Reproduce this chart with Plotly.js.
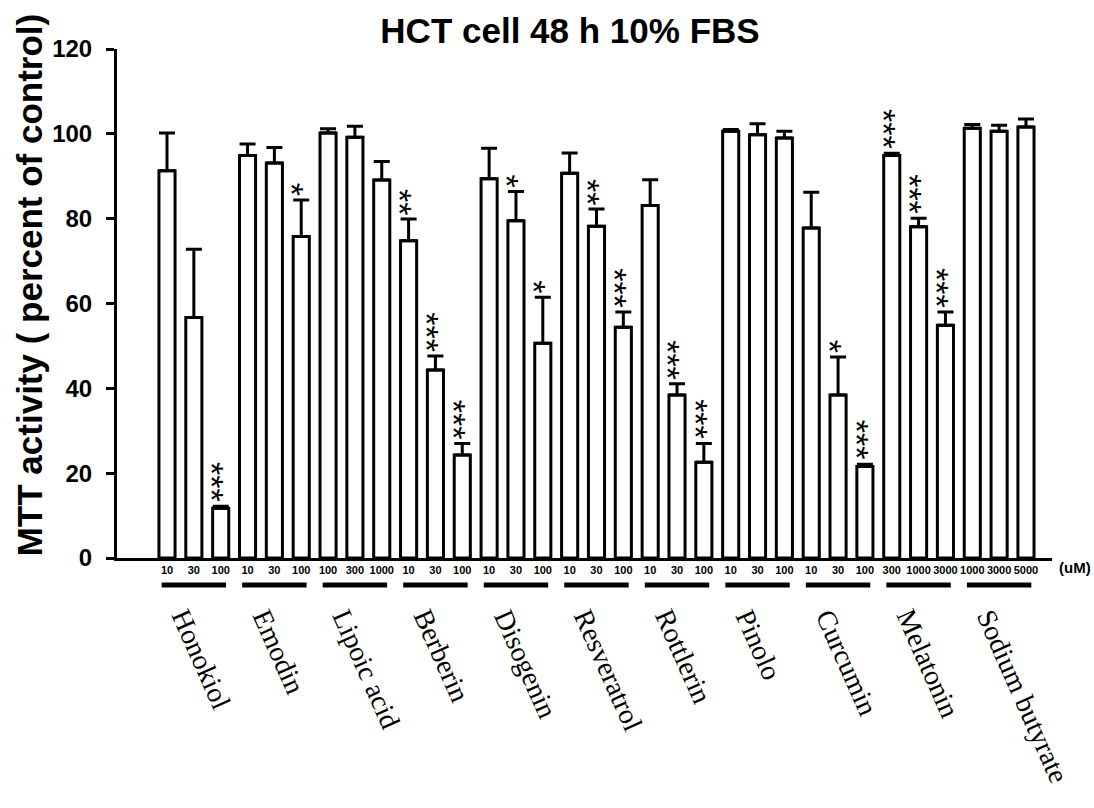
<!DOCTYPE html>
<html>
<head>
<meta charset="utf-8">
<script src="https://cdn.plot.ly/plotly-3.0.1.min.js"></script>
<style>html,body{margin:0;padding:0;background:#fff;}#chart{width:1094px;height:808px;}</style>
</head>
<body>
<div id="chart"></div>
<script>
const groups = ["Honokiol","Emodin","Lipoic acid","Berberin","Disogenin","Resveratrol","Rottlerin","Pinolo","Curcumin","Melatonin","Sodium butyrate"];
const doses = ["10","30","100","10","30","100","100","300","1000","10","30","100","10","30","100","10","30","100","10","30","100","10","30","100","10","30","100","300","1000","3000","1000","3000","5000"];
const values = [91.3,56.7,11.7, 94.9,93.1,75.8, 100.2,99.2,89.1, 74.8,44.3,24.3, 89.4,79.5,50.6, 90.7,78.2,54.4, 83.1,38.4,22.6, 100.6,99.8,99.0, 77.8,38.4,21.6, 94.9,78.1,54.9, 101.3,100.6,101.6];
const errors = [8.9,16.1,0.5, 2.7,3.7,8.6, 1.0,2.6,4.4, 5.1,3.3,2.7, 7.2,6.9,10.9, 4.8,4.1,3.6, 6.1,2.7,4.4, 0.4,2.6,1.6, 8.4,9.0,0.5, 0.5,2.0,3.1, 0.9,1.4,1.9];
const stars = [0,0,3, 0,0,1, 0,0,0, 2,3,3, 0,1,1, 0,2,3, 0,3,3, 0,0,0, 0,1,3, 3,3,3, 0,0,0];
const groupSize = 3;
const unitLabel = "(uM)";
const titleText = "HCT cell 48 h 10% FBS";
const yTitleText = "MTT activity ( percent of control)";

const xs = values.map((v,i)=>i);
const sans = "Arial, Liberation Sans, sans-serif";
const serif = "Times New Roman, Liberation Serif, serif";

const trace = {
  type: 'bar', x: xs, y: values, width: 0.6,
  marker: {color: '#ffffff', line: {color: '#000000', width: 3}},
  error_y: {type: 'data', symmetric: false, array: errors, arrayminus: errors.map(()=>0),
            color: '#000000', thickness: 3, width: 8},
  hoverinfo: 'x+y'
};

const annotations = [];
const shapes = [];
// significance stars: one vertical stack of asterisks per bar
values.forEach((v,i)=>{
  if (stars[i] > 0){
    annotations.push({x: i, y: v + errors[i], xref:'x', yref:'y', text: '*'.repeat(stars[i]), showarrow:false,
      xanchor:'center', yanchor:'bottom', textangle: 90, yshift: 2, xshift: -8.5,
      font:{family: sans, size: 34, color:'#000'}});
  }
});
// group underlines and names
groups.forEach((g,gi)=>{
  const a = gi*groupSize, b = a + groupSize - 1;
  shapes.push({type:'line', xref:'x', yref:'paper', x0: a-0.2, x1: b+0.2, y0: -0.053, y1: -0.053,
    line:{color:'#000', width:5}});
  annotations.push({x: a-0.15, y: -0.087, xref:'x', yref:'paper', text: g, showarrow:false,
    xanchor:'left', yanchor:'top', textangle: 66,
    font:{family: serif, size: 28, color:'#000'}});
});
annotations.push({x: 1.025, y: -0.018, xref:'paper', yref:'paper', text: unitLabel, showarrow:false,
  xanchor:'center', yanchor:'middle', font:{family: sans, size: 15, color:'#000', weight: 'bold'}});
annotations.push({x: -0.094, y: 0.536, xref:'paper', yref:'paper', text: yTitleText, showarrow:false,
  xanchor:'center', yanchor:'middle', textangle: -90,
  font:{family: sans, size: 35, color:'#000', weight:'bold'}});

const layout = {
  width: 1094, height: 808,
  margin: {l:117, r:42, t:49, b:250},
  paper_bgcolor:'#fff', plot_bgcolor:'#fff',
  showlegend:false,
  title: {text: titleText, x: 570/1094, xref:'container', xanchor:'center',
          y: 1 - 31/808, yref:'container', yanchor:'middle',
          font:{family: sans, size: 35, color:'#000', weight:'bold'}},
  xaxis: {range:[-1.863, 32.97], tickvals: xs, ticktext: doses, ticks:'', showgrid:false, zeroline:false,
          showline:true, linecolor:'#000', linewidth:3, tickangle:0,
          tickfont:{family: sans, size: 11, color:'#000', weight:'bold'}},
  yaxis: {range:[0,120], tickvals:[0,20,40,60,80,100,120], ticks:'outside', ticklen:8, tickwidth:3, tickcolor:'#000',
          showgrid:false, zeroline:false, showline:true, linecolor:'#000', linewidth:3,
          ticklabelstandoff: 9,
          tickfont:{family: sans, size: 24, color:'#000', weight:'bold'}},
  annotations, shapes
};
Plotly.newPlot('chart', [trace], layout, {displayModeBar:false, staticPlot:true});
</script>
</body>
</html>
